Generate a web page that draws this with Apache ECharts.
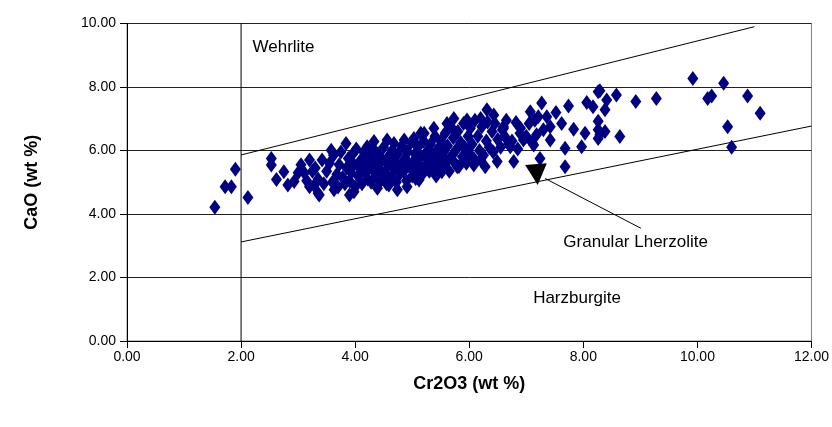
<!DOCTYPE html>
<html><head><meta charset="utf-8">
<script src="https://cdn.jsdelivr.net/npm/echarts@6/dist/echarts.min.js"></script>
<style>html,body{margin:0;padding:0;background:#fff}#c{width:832px;height:427px}</style>
</head><body><div id="c"></div>
<script>
// ---- data ----
const xTicks = [0, 2, 4, 6, 8, 10, 12];
const yTicks = [0, 2, 4, 6, 8, 10];
const cr2o3 = [
 1.54,1.72,1.83,1.90,2.12,2.53,2.53,2.62,2.75,2.82,2.93,3.00,3.05,3.11,3.15,3.20,3.20,3.25,3.28,3.35,
 3.84,3.58,4.21,4.33,4.56,4.68,4.86,5.03,5.15,
 3.37,3.63,3.90,3.98,4.39,4.59,4.74,4.91,5.06,
 6.31,6.43,6.20,5.96,5.73,5.61,5.38,5.21,6.60,6.69,
 5.12,5.38,5.52,5.79,6.08,5.90,6.28,6.49,6.20,
 3.30,3.35,3.42,3.45,3.50,3.55,3.60,3.62,3.68,3.70,
 3.72,3.75,3.78,3.82,3.85,3.88,3.90,3.93,3.96,3.98,4.00,4.02,
 4.05,4.08,4.10,4.12,4.15,4.18,4.20,4.22,4.25,4.28,4.30,4.32,4.35,4.38,4.40,
 4.42,4.45,4.48,4.50,4.52,4.55,4.58,4.60,4.62,4.65,4.68,4.70,4.72,4.75,4.78,4.80,
 4.82,4.85,4.88,4.90,4.92,4.95,4.98,5.00,5.02,5.05,5.08,5.10,5.12,5.15,5.18,5.20,
 5.22,5.25,5.28,5.30,5.32,5.35,5.38,5.40,5.42,5.45,5.48,5.50,5.52,5.55,5.58,5.60,
 5.62,5.65,5.68,5.70,5.72,5.75,5.78,5.80,5.82,5.85,5.88,5.90,5.92,5.95,5.98,6.00,
 6.02,6.05,6.08,6.10,6.15,6.18,6.22,6.25,6.30,6.32,6.35,6.40,6.42,6.45,6.50,6.55,6.58,6.62,6.65,
 6.75,6.85,6.90,7.00,7.05,7.10,7.15,
 7.27,7.07,6.82,7.74,7.52,8.06,8.17,8.26,7.36,7.21,7.62,7.42,7.83,8.03,8.26,8.29,7.30,7.18,7.13,6.95,
 7.42,7.68,7.97,6.78,7.24,7.68,6.72,6.89,6.60,
 8.29,8.58,8.41,8.92,9.28,9.92,8.38,8.26,8.38,8.26,8.64,
 10.46,10.18,10.25,10.88,11.10,10.53,10.60
];
const cao = [
 4.21,4.86,4.86,5.41,4.52,5.75,5.54,5.09,5.33,4.91,5.02,5.30,5.55,5.29,5.05,5.70,4.86,5.35,4.90,4.65,
 6.22,6.01,6.12,6.28,6.33,6.22,6.33,6.38,6.54,
 4.60,4.76,4.60,4.70,4.81,4.91,4.76,4.86,5.12,
 7.28,7.12,7.01,6.96,7.01,6.85,6.70,6.54,6.70,6.22,
 5.07,5.39,5.33,5.49,5.54,5.81,5.49,5.65,5.70,
 5.45,5.10,5.70,4.95,5.35,5.60,5.00,5.85,5.25,4.85,
 5.55,5.95,5.15,4.95,5.45,5.75,5.05,5.30,5.90,5.55,4.85,6.05,
 5.20,5.45,5.70,4.95,5.95,5.30,5.55,5.10,5.80,5.00,5.40,6.05,5.65,5.20,5.90,
 5.45,5.05,5.70,6.10,5.30,4.95,5.55,5.85,5.15,6.00,5.40,5.65,5.00,5.90,5.25,5.55,
 6.15,5.35,5.75,5.05,5.95,5.50,6.25,5.20,5.65,5.90,5.40,6.10,5.55,5.80,5.25,6.30,
 5.50,5.95,5.70,5.35,6.20,5.85,5.55,6.45,5.20,6.05,5.75,6.30,5.45,5.95,6.55,5.65,
 6.15,5.35,6.75,5.85,6.40,5.60,6.05,6.60,5.50,6.25,5.80,6.85,6.10,5.60,6.45,5.90,
 6.70,6.20,5.75,6.95,6.45,6.00,6.75,5.85,6.30,6.90,6.10,6.60,5.95,6.85,6.35,6.10,6.65,6.45,6.95,
 6.30,6.05,6.70,6.45,6.85,6.25,6.95,
 7.50,7.22,6.88,7.40,7.20,7.51,7.38,7.85,7.06,7.06,6.85,6.75,6.67,6.54,6.92,6.50,6.65,6.50,6.17,6.33,
 6.33,6.07,6.12,5.65,5.75,5.49,6.12,6.54,6.75,
 7.88,7.75,7.59,7.54,7.64,8.27,7.28,6.65,6.60,6.38,6.44,
 8.12,7.64,7.72,7.72,7.17,6.75,6.10
];
// field boundaries and annotation (data coordinates)
const wehrliteLine = [[2, 0], [2, 10]];
const upperLine = [[2, 5.86], [11.0, 9.9]];
const lowerLine = [[2, 3.12], [12, 6.77]];
const arrowLine = [[9.01, 3.55], [7.33, 5.12]];
const arrowHead = [[6.98, 5.54], [7.36, 5.60], [7.20, 4.91]];
const fieldNames = ['Wehrlite', 'Granular Lherzolite', 'Harzburgite'];
const fieldX = [2.2, 7.65, 7.12];
const fieldY = [9.26, 3.12, 1.35];

const points = cr2o3.map((x, i) => [x, cao[i]]);
const FONT = '"Liberation Sans", Arial, sans-serif';
const chart = echarts.init(document.getElementById('c'), null, {renderer: 'canvas'});
const lineSeries = (d) => ({
  type: 'line', data: d, symbol: 'none', silent: true, z: 3,
  lineStyle: {color: '#000', width: 1}, animation: false
});
chart.setOption({
  animation: false,
  backgroundColor: '#fff',
  grid: {left: 127, right: 18, top: 23.5, bottom: 86, show: true, borderColor: '#808080', borderWidth: 1},
  xAxis: {
    type: 'value', min: xTicks[0], max: xTicks[xTicks.length - 1], interval: 2,
    name: 'Cr2O3 (wt %)', nameLocation: 'middle', nameGap: 34,
    nameTextStyle: {fontFamily: FONT, fontWeight: 'bold', fontSize: 18, color: '#000'},
    axisLine: {lineStyle: {color: '#000', width: 1}},
    axisTick: {show: true, length: 7, inside: false, lineStyle: {color: '#000'}},
    axisLabel: {margin: 9, fontFamily: FONT, fontSize: 14, color: '#000', formatter: v => v.toFixed(2)},
    splitLine: {show: false}
  },
  yAxis: {
    type: 'value', min: yTicks[0], max: yTicks[yTicks.length - 1], interval: 2,
    name: 'CaO (wt %)', nameLocation: 'middle', nameGap: 86, nameRotate: 90,
    nameTextStyle: {fontFamily: FONT, fontWeight: 'bold', fontSize: 18, color: '#000'},
    axisLine: {show: true, lineStyle: {color: '#000', width: 1}},
    axisTick: {show: true, length: 7, lineStyle: {color: '#000'}},
    axisLabel: {margin: 11, fontFamily: FONT, fontSize: 14, color: '#000', formatter: v => v.toFixed(2)},
    splitLine: {show: true, lineStyle: {color: '#222', width: 1}}
  },
  series: [
    lineSeries(wehrliteLine),
    lineSeries(upperLine),
    lineSeries(lowerLine),
    {
      type: 'scatter', data: points, symbol: 'diamond', symbolSize: [11, 15], z: 4,
      itemStyle: {color: '#000080', opacity: 1}, silent: true
    },
    lineSeries(arrowLine),
    {
      type: 'custom', z: 6, silent: true, data: [0],
      renderItem: (params, api) => ({
        type: 'polygon',
        shape: {points: arrowHead.map(p => api.coord(p))},
        style: {fill: '#000'}
      })
    },
    {
      type: 'custom', z: 6, silent: true, data: fieldNames.map((n, i) => [fieldX[i], fieldY[i]]),
      renderItem: (params, api) => {
        const p = api.coord([api.value(0), api.value(1)]);
        return {
          type: 'text', x: p[0], y: p[1],
          style: {text: fieldNames[params.dataIndex], fontFamily: FONT, fontSize: 17, fill: '#000',
                  align: 'left', verticalAlign: 'middle'}
        };
      }
    }
  ]
});
</script></body></html>
